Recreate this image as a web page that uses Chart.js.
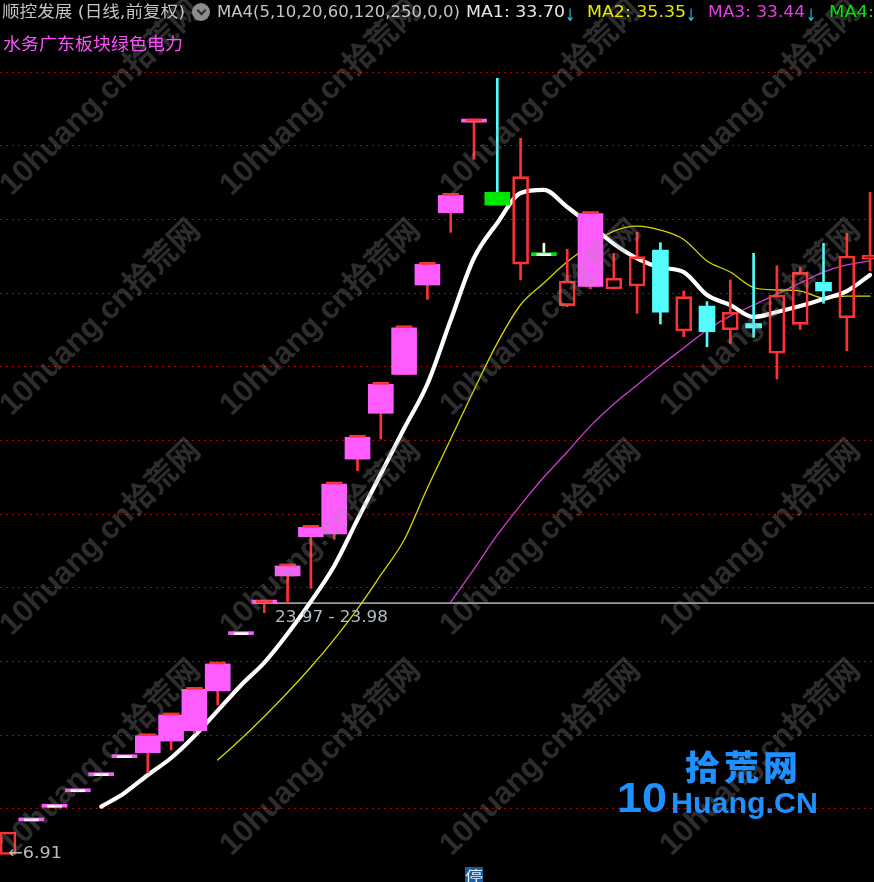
<!DOCTYPE html>
<html><head><meta charset="utf-8">
<script src="https://cdn.jsdelivr.net/npm/chart.js"></script>
<style>
html,body{margin:0;padding:0;background:#000;width:874px;height:882px;overflow:hidden;}
#wrap{position:relative;width:874px;height:882px;overflow:hidden;}
canvas{position:absolute;left:0;top:0;}
.t{position:absolute;white-space:nowrap;font-family:"DejaVu Sans","Noto Sans CJK SC",sans-serif;transform-origin:0 50%;line-height:1;}
.wm{position:absolute;white-space:nowrap;font-family:"Liberation Sans","Noto Sans CJK SC",sans-serif;font-weight:bold;font-size:31px;color:rgba(150,150,150,0.30);transform-origin:0 100%;transform:rotate(-44deg);line-height:1;}
</style></head>
<body><div id="wrap"><canvas id="c" width="874" height="882"></canvas></div>
<script>
// ---------- data ----------
const days = [0,1,2,3,4,5,6,7,8,9,10,11,12,13,14,15,16,17,18,19,20,21,22,23,24,25,26,27,28,29,30,31,32,33,34,35,36,37];
const opens  = [6.91,9.19,10.12,11.17,12.26,13.48,13.82,14.61,15.31,18.01,21.83,23.97,25.81,28.47,28.66,33.74,36.85,39.49,45.55,50.45,56.60,51.84,46.97,47.54,44.15,45.45,45.28,45.48,47.92,42.43,44.12,42.50,42.94,40.92,42.88,45.73,43.33,47.31];
const highs  = [8.44,9.19,10.12,11.17,12.26,13.48,14.97,16.38,18.12,19.84,21.83,24.01,26.49,29.11,32.05,35.22,38.81,42.65,46.95,51.63,56.68,59.57,55.50,48.38,47.97,50.40,47.70,49.12,48.42,45.14,44.42,45.89,47.70,46.86,46.75,48.38,49.06,51.84];
const lows   = [6.91,9.19,10.12,11.17,12.26,13.48,12.46,14.00,15.14,17.06,21.83,23.32,23.98,24.97,28.30,32.95,35.10,39.49,44.58,49.12,54.08,50.98,45.89,47.54,44.08,45.28,45.28,43.63,42.90,42.04,41.36,41.59,42.00,39.17,42.54,44.31,41.09,46.52];
const closes = [8.44,9.19,10.12,11.17,12.26,13.48,14.97,16.38,18.12,19.84,21.83,24.00,26.49,29.11,32.05,35.22,38.81,42.65,46.95,51.63,56.68,50.98,52.90,47.54,45.82,50.40,46.02,47.47,43.70,44.76,42.38,43.70,42.63,44.87,46.41,45.14,47.52,47.58];
// indicator highlight per day: 'p' = pink, 'g' = green, '' = none
const highlight = ['','p','p','p','p','p','p','p','p','p','p','p','p','p','p','p','p','p','p','p','p','g','','g','','p','','','','','','','','','','','',''];
const ma5  = [null,null,null,null,10.16,11.09,12.31,13.46,14.95,16.67,18.40,19.93,21.89,24.08,26.49,29.63,32.73,35.81,38.83,43.17,47.38,49.76,51.79,52.00,50.84,49.62,48.34,47.36,46.74,46.43,44.87,44.19,43.38,43.72,44.12,44.60,45.14,46.23];
const ma10 = [null,null,null,null,null,null,null,null,null,13.32,14.75,16.28,17.90,19.63,21.51,23.57,25.88,28.25,31.78,35.10,38.43,41.61,44.21,45.69,47.12,48.26,49.21,49.55,49.28,48.64,47.18,46.43,45.38,45.21,45.14,44.67,44.80,44.80];
const ma20 = [null,null,null,null,null,null,null,null,null,null,null,null,null,null,null,null,null,null,null,24.04,26.28,28.59,30.62,32.52,34.22,35.99,37.48,38.77,40.06,41.28,42.50,43.45,44.19,44.94,45.69,46.43,46.91,47.18];
const gapLow = 23.97, gapHigh = 23.98, gapStartDay = 11;
const lowestPrice = 6.91;
const maHeader = ['33.70','35.35','33.44'];
const gridStep = 5;

// ---------- styles ----------
const RED='#ff3232', CYAN='#54fcfc', PINK='#ff5cff', GREEN='#00e600', WHITE='#ffffff';
const X_MIN=-0.343, X_MAX=37.167, Y_MIN=5.047, Y_MAX=64.885;

const isUp = i => closes[i] > opens[i];
const isDn = i => closes[i] < opens[i];
const wickCol = i => isUp(i) ? RED : (isDn(i) ? CYAN : WHITE);
const linePts = arr => days.map((d,i)=>arr[i]==null?null:{x:d,y:arr[i]}).filter(Boolean);

const upperWick = days.map((d,i)=>({x:d,y:[Math.max(opens[i],closes[i]),highs[i]],i})).filter(p=>p.y[1]>p.y[0]);
const lowerWick = days.map((d,i)=>({x:d,y:[lows[i],Math.min(opens[i],closes[i])],i})).filter(p=>p.y[1]>p.y[0]);
const bodies = days.map((d,i)=>({x:d,y:[opens[i],closes[i]],i})).filter(p=>opens[p.i]!==closes[p.i]);
const dojis = days.map((d,i)=>({x:d,y:[opens[i],closes[i]],i})).filter(p=>opens[p.i]===closes[p.i]);
const hls = days.map((d,i)=>({x:d,y:[opens[i],closes[i]],i})).filter(p=>highlight[p.i]!=='');
const caps = days.map((d,i)=>({x:d,y:[closes[i],closes[i]],i})).filter(p=>highlight[p.i]==='p' && isUp(p.i));

const barBase = {type:'bar', grouped:false, borderSkipped:false, parsing:{xAxisKey:'x',yAxisKey:'y'}};
const maLine = {type:'line', pointRadius:0, cubicInterpolationMode:'monotone', borderJoinStyle:'round', borderCapStyle:'round'};

new Chart(document.getElementById('c'), {
  type:'bar',
  data:{datasets:[
    {type:'line', data:[{x:gapStartDay-0.5,y:gapLow},{x:X_MAX+1,y:gapLow}], borderColor:'#9c9c9c', borderWidth:1.6, pointRadius:0, order:10},
    {...maLine, data:linePts(ma20), borderColor:'#d23cd2', borderWidth:1.3, order:9},
    {...maLine, data:linePts(ma10), borderColor:'#d8d800', borderWidth:1.3, order:8},
    {...maLine, data:linePts(ma5), borderColor:WHITE, borderWidth:4.2, order:7},
    {...barBase, data:upperWick, barThickness:2, backgroundColor:c=>wickCol(c.raw.i), borderWidth:0, order:6},
    {...barBase, data:lowerWick, barThickness:2, backgroundColor:c=>wickCol(c.raw.i), borderWidth:0, order:6},
    {...barBase, data:bodies, barThickness:16, minBarLength:2,
      backgroundColor:c=>isUp(c.raw.i)?'rgba(0,0,0,0)':CYAN,
      borderColor:c=>isUp(c.raw.i)?RED:CYAN,
      borderWidth:c=>isUp(c.raw.i)?2:0, order:5},
    {...barBase, data:hls, barThickness:25, minBarLength:3,
      backgroundColor:c=>highlight[c.raw.i]==='g'?GREEN:PINK, borderWidth:0, order:4},
    {...barBase, data:caps, barThickness:16, minBarLength:2, backgroundColor:RED, borderWidth:0, order:3},
    {...barBase, data:dojis, barThickness:14, minBarLength:2, backgroundColor:WHITE, borderWidth:0, order:2}
  ]},
  options:{
    responsive:false, animation:false, events:[], devicePixelRatio:1,
    layout:{padding:0},
    plugins:{legend:{display:false}, tooltip:{enabled:false}},
    scales:{
      x:{type:'linear', min:X_MIN, max:X_MAX, display:false, offset:false},
      y:{type:'linear', min:Y_MIN, max:Y_MAX, beginAtZero:false, display:true,
         ticks:{display:false, stepSize:gridStep},
         grid:{drawTicks:false, lineWidth:1,
           color:c=>{const v=c.tick.value/gridStep; return Math.abs(v-Math.round(v))<1e-6?'#b00000':'rgba(0,0,0,0)';}},
         border:{display:false, dash:[2,4]},
         afterFit:s=>{s.width=0;}
      }
    }
  }
});

// ---------- watermarks ----------
const wrap = document.getElementById('wrap');
[15,235,455,675].forEach(x=>[200,420,640,860].forEach(y=>{
  const w=document.createElement('div'); w.className='wm'; w.textContent='10huang.cn拾荒网';
  w.style.left=x+'px'; w.style.top=(y-31)+'px'; wrap.appendChild(w);
}));

// ---------- texts ----------
function addText(t,x,cy,w,size,color,extra){
  const e=document.createElement('div'); e.className='t'; e.textContent=t;
  e.style.left=x+'px'; e.style.top=(cy-size/2)+'px'; e.style.fontSize=size+'px'; e.style.color=color;
  if(extra) Object.assign(e.style,extra);
  wrap.appendChild(e);
  const r=e.getBoundingClientRect().width;
  if(w && r>0) e.style.transform='scaleX('+(w/r)+')';
  return e;
}
addText('顺控发展 (日线,前复权)',2,12,183,16,'#c4c4c4');
const ic=document.createElement('div');
Object.assign(ic.style,{position:'absolute',left:'192px',top:'3px',width:'18px',height:'18px',borderRadius:'50%',background:'#8c8c8c'});
const ch=document.createElement('div');
Object.assign(ch.style,{position:'absolute',left:'6px',top:'4px',width:'5px',height:'5px',borderRight:'2px solid #2a2a2a',borderBottom:'2px solid #2a2a2a',transform:'rotate(45deg)'});
ic.appendChild(ch); wrap.appendChild(ic);
addText('MA4(5,10,20,60,120,250,0,0)',217,12,243,16,'#c4c4c4');
addText('MA1: '+maHeader[0],466,12,99,16,'#e6e6e6');
addText('↓',565,15,10,17,'#18d4f4');
addText('MA2: '+maHeader[1],587,12,99,16,'#e8e800');
addText('↓',686,15,10,17,'#18d4f4');
addText('MA3: '+maHeader[2],708,12,97,16,'#e83ce8');
addText('↓',806,15,10,17,'#18d4f4');
addText('MA4:',829,12,45,16,'#00e400');
addText('水务广东板块绿色电力',3,44,180,17,'#ff50ff');
addText('←'+lowestPrice.toFixed(2),8,853,54,16,'#b4bcc4');
addText(gapLow.toFixed(2)+' - '+gapHigh.toFixed(2),275,617,113,16,'#b4bcc4');
addText('停',465,874,18,14,'#e0f0ff',{background:'#1b5d9c',padding:'1px 0',fontFamily:'"Noto Sans CJK SC",sans-serif'});

// logo
addText('拾荒网',685,766,117,34,'#1e90ff',{fontFamily:'"Noto Sans CJK SC",sans-serif',fontWeight:'900',letterSpacing:'4px'});
const l1=document.createElement('div'); l1.className='t'; l1.textContent='10';
Object.assign(l1.style,{left:'617px',top:'777px',fontSize:'42px',color:'#1e90ff',fontWeight:'bold',fontFamily:'"Liberation Sans",sans-serif'});
wrap.appendChild(l1);
const r1=l1.getBoundingClientRect().width; l1.style.transform='scaleX('+(50/r1)+')';
const l2=document.createElement('div'); l2.className='t'; l2.textContent='Huang.CN';
Object.assign(l2.style,{left:'671px',top:'788px',fontSize:'30px',color:'#1e90ff',fontWeight:'bold',fontFamily:'"Liberation Sans",sans-serif'});
wrap.appendChild(l2);
const r2=l2.getBoundingClientRect().width; l2.style.transform='scaleX('+(147/r2)+')';
</script>
</body></html>
